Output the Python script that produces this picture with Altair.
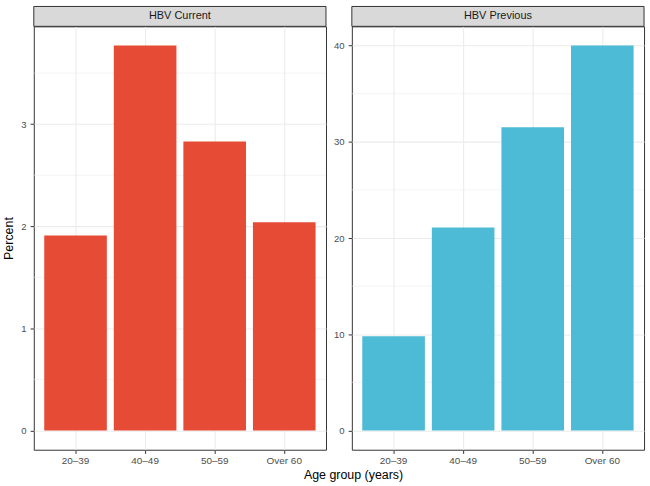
import altair as alt
import pandas as pd

# Prevalence (%) of HBV markers by age group
age_groups = ["20\u201339", "40\u201349", "50\u201359", "Over 60"]
hbv_current = [1.91, 3.77, 2.83, 2.04]
hbv_previous = [9.8, 21.1, 31.5, 40.0]

panel_names = ["HBV Current", "HBV Previous"]
panel_colors = ["#E64B35", "#4DBBD5"]
major_ticks = [[0, 1, 2, 3], [0, 10, 20, 30, 40]]
minor_ticks = [[0.5, 1.5, 2.5, 3.5], [5, 15, 25, 35]]

FONT = "Liberation Sans"
W, H = 294, 426
STRIP = 20
GRID = "#EBEBEB"
DARK = "#333333"
LABEL = "#4D4D4D"


def panel(name, values, color, ticks, minor, y_title):
    df = pd.DataFrame({"age": age_groups, "pct": values})
    top = max(values)
    pad = 0.05 * top
    yscale = alt.Scale(domain=[-pad, top + pad], nice=False, zero=False)
    xscale = alt.Scale(domain=age_groups, paddingInner=0.1, paddingOuter=0.15)

    y_axis = alt.Axis(
        values=ticks,
        title=y_title,
        titleFont=FONT,
        titleFontSize=12.5,
        titleFontWeight="normal",
        titleColor="black",
        titlePadding=5,
        grid=True,
        gridColor=GRID,
        gridWidth=1.07,
        domain=False,
        tickColor=DARK,
        tickSize=3.7,
        tickWidth=1,
        labelColor=LABEL,
        labelFont=FONT,
        labelFontSize=9.6,
        labelPadding=4,
    )

    # minor horizontal grid, drawn beneath the bars
    minor_rules = (
        alt.Chart(pd.DataFrame({"v": minor}))
        .mark_rule(color=GRID, strokeWidth=0.55)
        .encode(
            y=alt.Y("v:Q", scale=yscale, axis=y_axis),
            x=alt.value(0),
            x2=alt.value("width"),
        )
    )

    bars = (
        alt.Chart(df)
        .mark_bar(color=color)
        .encode(
            x=alt.X(
                "age:N",
                scale=xscale,
                sort=age_groups,
                axis=alt.Axis(
                    title=None,
                    labelAngle=0,
                    grid=True,
                    gridColor=GRID,
                    gridWidth=1.07,
                    bandPosition=0.5,
                    domain=False,
                    tickColor=DARK,
                    tickSize=3.7,
                    tickWidth=1,
                    labelColor=LABEL,
                    labelFont=FONT,
                    labelFontSize=10,
                    labelPadding=2,
                ),
            ),
            y=alt.Y("pct:Q", scale=yscale, axis=y_axis),
        )
    )

    strip_df = pd.DataFrame({"label": [name]})
    strip_rect = (
        alt.Chart(strip_df)
        .mark_rect(fill="#D9D9D9", stroke=DARK, strokeWidth=1)
        .encode(
            x=alt.value(0),
            x2=alt.value("width"),
            y=alt.value(-STRIP),
            y2=alt.value(0),
        )
    )
    strip_text = (
        alt.Chart(strip_df)
        .mark_text(font=FONT, fontSize=11, color="#1A1A1A")
        .encode(x=alt.value(W / 2), y=alt.value(-STRIP / 2), text="label:N")
    )

    return alt.layer(minor_rules, bars, strip_rect, strip_text).properties(
        width=W, height=H
    )


left = panel(panel_names[0], hbv_current, panel_colors[0],
             major_ticks[0], minor_ticks[0], "Percent")
right = panel(panel_names[1], hbv_previous, panel_colors[1],
              major_ticks[1], minor_ticks[1], None)

chart = (
    alt.hconcat(left, right, spacing=6)
    .properties(
        title=alt.TitleParams(
            "Age group (years)",
            orient="bottom",
            anchor="middle",
            font=FONT,
            fontSize=12.5,
            fontWeight="normal",
            color="black",
            offset=3,
            dx=30,
        ),
        padding={"left": 2, "top": 4, "right": 5, "bottom": 3},
        background="white",
    )
    .configure_view(stroke=DARK, strokeWidth=1)
)

chart.save("out.html", embed_options={"renderer": "svg", "actions": False})
